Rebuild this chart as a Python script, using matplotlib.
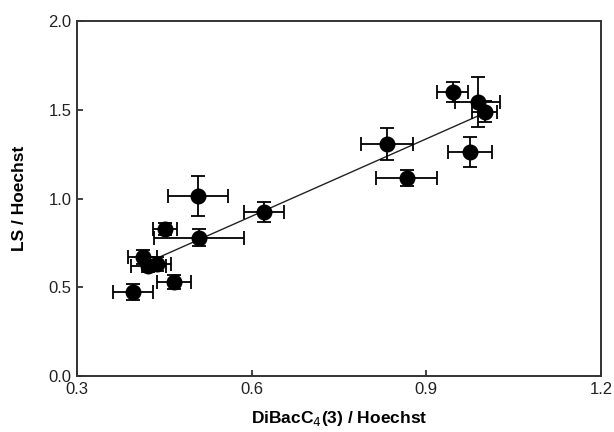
import numpy as np
import matplotlib
matplotlib.use('Agg')
import matplotlib.pyplot as plt

plt.rcParams['font.family'] = ['Liberation Sans', 'DejaVu Sans']

# DiBacC4(3)/Hoechst vs LS/Hoechst, mean +- error
x_vals = [0.396, 0.467, 0.413, 0.422, 0.437, 0.451, 0.508, 0.510,
          0.621, 0.832, 0.866, 0.945, 0.988, 1.000, 0.975]
y_vals = [0.473, 0.530, 0.670, 0.620, 0.630, 0.828, 1.014, 0.780,
          0.924, 1.305, 1.113, 1.598, 1.545, 1.489, 1.264]
x_err = [0.034, 0.029, 0.025, 0.030, 0.025, 0.020, 0.051, 0.077,
         0.034, 0.045, 0.052, 0.027, 0.039, 0.022, 0.038]
y_err = [0.045, 0.040, 0.040, 0.035, 0.040, 0.035, 0.110, 0.048,
         0.056, 0.090, 0.045, 0.056, 0.140, 0.060, 0.085]

# regression line
fit_x = [0.443, 0.992]
fit_y = [0.672, 1.470]

fig = plt.figure(figsize=(6.14, 4.32), dpi=100)
ax = fig.add_axes([0.1254, 0.1296, 0.8535, 0.8218])

ax.plot(fit_x, fit_y, color='#222222', linewidth=1.0, zorder=2)
ax.errorbar(x_vals, y_vals, xerr=x_err, yerr=y_err, fmt='o', color='black',
            markersize=10.5, elinewidth=1.3, capsize=5, capthick=1.3, zorder=3)

ax.set_xlim(0.3, 1.2)
ax.set_ylim(0.0, 2.0)
ax.set_xticks([0.3, 0.6, 0.9, 1.2])
ax.set_yticks([0.0, 0.5, 1.0, 1.5, 2.0])
ax.set_xticklabels(['0.3', '0.6', '0.9', '1.2'])
ax.set_yticklabels(['0.0', '0.5', '1.0', '1.5', '2.0'])
ax.tick_params(direction='in', length=4, width=1.2, labelsize=12,
               colors='#222222', pad=4)
for s in ax.spines.values():
    s.set_linewidth(1.4)
    s.set_color('#333333')

ax.set_xlabel('DiBacC$_4$(3) / Hoechst', fontsize=12.5, fontweight='bold', labelpad=9)
ax.set_ylabel('LS / Hoechst', fontsize=12.5, fontweight='bold', labelpad=15)

fig.savefig('out.png', dpi=100)
